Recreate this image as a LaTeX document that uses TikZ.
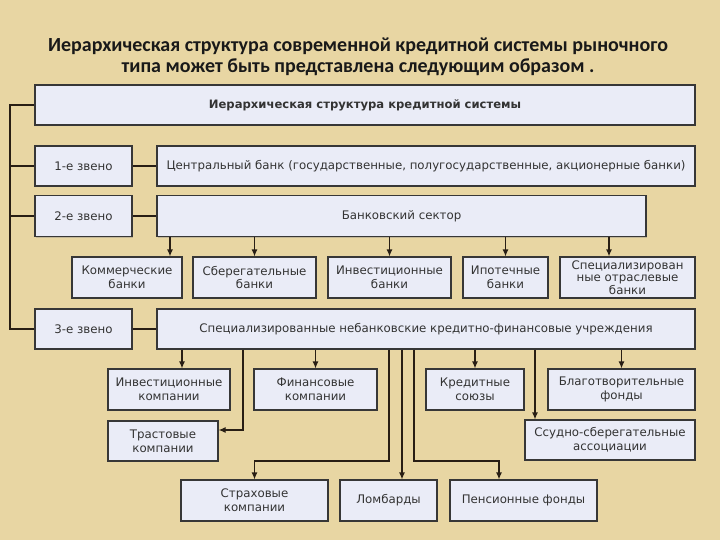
\documentclass[tikz,border=0pt]{standalone}
\usepackage{fontspec}
\setmainfont{DejaVu Sans}
\newfontfamily\titlefont{Carlito}
\usetikzlibrary{arrows.meta,shadows}
\definecolor{parch}{RGB}{232,214,163}
\definecolor{boxfill}{RGB}{234,236,247}
\definecolor{boxline}{RGB}{55,55,55}
\definecolor{linkcol}{RGB}{40,30,20}
\begin{document}
\begin{tikzpicture}[x=1pt,y=-1pt,
  box/.style={draw=boxline, line width=1.2pt, fill=boxfill, inner sep=0pt, align=center,
    text=black!80, font=\fontsize{11.8}{13.8}\selectfont,
    drop shadow={shadow xshift=1pt,shadow yshift=-1pt,opacity=0.35}},
  link/.style={draw=linkcol, line width=1.2pt},
  arr/.style={link, -{Latex[length=7pt,width=6pt]}}]
\fill[parch] (0,0) rectangle (720,540);
\useasboundingbox (0,0) rectangle (720,540);
% title
\node[font=\titlefont\bfseries\fontsize{20}{21.5}\selectfont, align=center, text=black!90] (title) at (358,57)
  {Иерархическая структура современной кредитной системы рыночного\\типа может быть представлена следующим образом .};
% boxes
\node[box, minimum width=660pt, minimum height=40pt, font=\fontsize{11.6}{13.8}\selectfont] (top) at (365,105) {\textbf{Иерархическая структура кредитной системы}};
\node[box, minimum width=97pt, minimum height=40pt] (z1) at (83.5,166) {1-е звено};
\node[box, minimum width=538pt, minimum height=40pt] (cb) at (426,166) {Центральный банк (государственные, полугосударственные, акционерные банки)};
\node[box, minimum width=97pt, minimum height=41pt] (z2) at (83.5,216) {2-е звено};
\node[box, minimum width=489pt, minimum height=41pt] (bs) at (401.5,216) {Банковский сектор};
\node[box, minimum width=110pt, minimum height=41pt] (b1) at (127,277.5) {Коммерческие\\банки};
\node[box, minimum width=123pt, minimum height=41pt] (b2) at (254.5,277.5) {Сберегательные\\банки};
\node[box, minimum width=123pt, minimum height=41pt] (b3) at (389.5,277.5) {Инвестиционные\\банки};
\node[box, minimum width=85pt, minimum height=41pt] (b4) at (505.5,277.5) {Ипотечные\\банки};
\node[box, minimum width=135pt, minimum height=41pt, font=\fontsize{11.8}{12.6}\selectfont] (b5) at (627.5,277.5) {Специализирован\\ные отраслевые\\банки};
\node[box, minimum width=97pt, minimum height=40pt] (z3) at (83.5,329) {3-е звено};
\node[box, minimum width=538pt, minimum height=40pt] (nb) at (426,329) {Специализированные небанковские кредитно-финансовые учреждения};
\node[box, minimum width=122pt, minimum height=41pt] (c1) at (169,389.5) {Инвестиционные\\компании};
\node[box, minimum width=123pt, minimum height=41pt] (c2) at (315.5,389.5) {Финансовые\\компании};
\node[box, minimum width=98pt, minimum height=41pt] (c3) at (475,389.5) {Кредитные\\союзы};
\node[box, minimum width=147pt, minimum height=41pt] (c4) at (621.5,389.5) {Благотворительные\\фонды};
\node[box, minimum width=110pt, minimum height=40pt] (t) at (163,441) {Трастовые\\компании};
\node[box, minimum width=170pt, minimum height=40pt] (s) at (610,440) {Ссудно-сберегательные\\ассоциации};
\node[box, minimum width=147pt, minimum height=41pt] (d1) at (254.5,500.5) {Страховые\\компании};
\node[box, minimum width=97pt, minimum height=41pt] (d2) at (388.5,500.5) {Ломбарды};
\node[box, minimum width=147pt, minimum height=41pt] (d3) at (523.5,500.5) {Пенсионные фонды};
% helper coordinates
\coordinate (busx) at (10,0);
\coordinate (xa) at (170,0);
\coordinate (xb) at (609,0);
\coordinate (xc1) at (182,0);
\coordinate (xt) at (243,0);
\coordinate (xi) at (389,0);
\coordinate (xii) at (402,0);
\coordinate (xiii) at (414,0);
\coordinate (xs) at (535,0);
\coordinate (xp) at (499,0);
\coordinate (yt) at (0,430);
\coordinate (yh) at (0,461);
% left bus
\draw[link] (top.west) -- (top.west -| busx) -- (z3.west -| busx) -- (z3.west);
\draw[link] (z1.west -| busx) -- (z1.west);
\draw[link] (z2.west -| busx) -- (z2.west);
\draw[link] (z1.east) -- (cb.west);
\draw[link] (z2.east) -- (bs.west);
\draw[link] (z3.east) -- (nb.west);
% bank arrows
\draw[arr] (bs.south -| xa) -- (b1.north -| xa);
\draw[arr] (bs.south -| b2.north) -- (b2.north);
\draw[arr] (bs.south -| b3.north) -- (b3.north);
\draw[arr] (bs.south -| b4.north) -- (b4.north);
\draw[arr] (bs.south -| xb) -- (b5.north -| xb);
% non-bank arrows
\draw[arr] (nb.south -| xc1) -- (c1.north -| xc1);
\draw[arr] (nb.south -| xt) |- (yt -| t.east);
\draw[arr] (nb.south -| c2.north) -- (c2.north);
\draw[arr] (nb.south -| xi) -- (xi |- yh) -- (yh -| d1.north) -- (d1.north);
\draw[arr] (nb.south -| xii) -- (d2.north -| xii);
\draw[arr] (nb.south -| xiii) -- (xiii |- yh) -- (yh -| xp) -- (d3.north -| xp);
\draw[arr] (nb.south -| c3.north) -- (c3.north);
\draw[arr] (nb.south -| xs) -- (s.north -| xs);
\draw[arr] (nb.south -| c4.north) -- (c4.north);
\end{tikzpicture}
\end{document}
